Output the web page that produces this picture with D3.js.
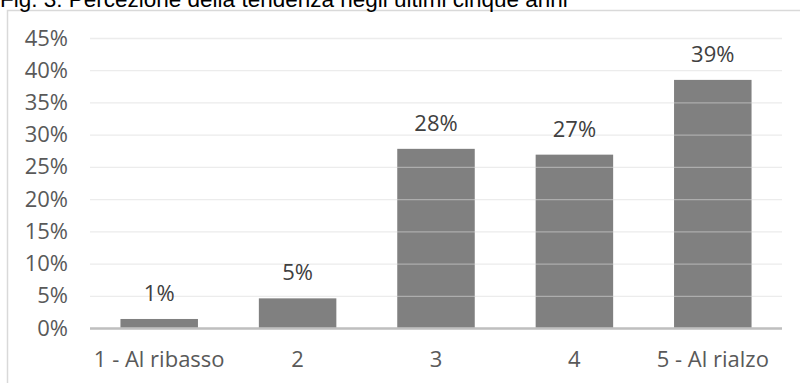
<!DOCTYPE html>
<html>
<head>
<meta charset="utf-8">
<script src="https://cdn.jsdelivr.net/npm/d3@7"></script>
<style>
  html, body { margin: 0; padding: 0; background: #fff; }
  svg { display: block; }
</style>
</head>
<body>
<svg id="chart" width="800" height="383"></svg>
<script>
// Survey answers: perceived trend over the last five years
const categories = ["1 - Al ribasso", "2", "3", "4", "5 - Al rialzo"];
const shares = [0.014, 0.046, 0.278, 0.269, 0.385];
const yTicks = [0, 0.05, 0.10, 0.15, 0.20, 0.25, 0.30, 0.35, 0.40, 0.45];
const title = "Fig. 3: Percezione della tendenza negli ultimi cinque anni";

const svg = d3.select("#chart");
const W = 800, H = 383;
const margin = { left: 90, right: 18, top: 38, bottom: 55 };

const x = d3.scaleBand()
  .domain(categories)
  .range([margin.left, W - margin.right])
  .paddingInner(0.44)
  .paddingOuter(0.22);

const y = d3.scaleLinear()
  .domain([0, 0.45])
  .range([H - margin.bottom, margin.top]);

const fontFace = "'Open Sans', Lato, sans-serif";
const fontSize = 22;
const textColor = "#595959";

// Chart frame (top and left edges visible)
svg.append("path")
  .attr("d", `M7.5,${H} L7.5,10.5 L${W},10.5`)
  .attr("fill", "none")
  .attr("stroke", "#d9d9d9")
  .attr("stroke-width", 1.5);

// Title, partly clipped at the top
svg.append("text")
  .attr("x", 0)
  .attr("y", 7)
  .attr("font-family", "'Liberation Sans', Arial, sans-serif")
  .attr("font-size", 22.5)
  .attr("fill", "#000")
  .text(title);

// Bars
svg.append("g")
  .selectAll("rect")
  .data(shares)
  .join("rect")
  .attr("x", (d, i) => x(categories[i]))
  .attr("width", x.bandwidth())
  .attr("y", d => y(d))
  .attr("height", d => y(0) - y(d))
  .attr("fill", "#808080");

// Gridlines over the bars, very light
const yAxis = d3.axisLeft(y)
  .tickValues(yTicks)
  .tickFormat(d3.format(".0%"))
  .tickSize(-(W - margin.right - margin.left))
  .tickPadding(22);

const gy = svg.append("g")
  .attr("transform", `translate(${margin.left},0)`)
  .call(yAxis);
gy.select(".domain").remove();
gy.selectAll(".tick line")
  .attr("stroke", "#d9d9d9")
  .attr("stroke-opacity", 0.5)
  .attr("stroke-width", 1.3);
gy.selectAll(".tick text")
  .attr("font-family", fontFace)
  .attr("font-size", fontSize)
  .attr("fill", textColor);

// Baseline
svg.append("line")
  .attr("x1", margin.left)
  .attr("x2", W - margin.right)
  .attr("y1", y(0) + 0.5)
  .attr("y2", y(0) + 0.5)
  .attr("stroke", "#bfbfbf")
  .attr("stroke-width", 2.5);

// Category axis labels
const xAxis = d3.axisBottom(x).tickSize(0).tickPadding(23);
const gx = svg.append("g")
  .attr("transform", `translate(0,${y(0)})`)
  .call(xAxis);
gx.select(".domain").remove();
gx.selectAll(".tick text")
  .attr("font-family", fontFace)
  .attr("font-size", fontSize)
  .attr("fill", textColor);

// Value labels above bars
svg.append("g")
  .selectAll("text")
  .data(shares)
  .join("text")
  .attr("x", (d, i) => x(categories[i]) + x.bandwidth() / 2)
  .attr("y", d => y(d) - 18)
  .attr("text-anchor", "middle")
  .attr("font-family", fontFace)
  .attr("font-size", fontSize)
  .attr("fill", "#404040")
  .text(d => d3.format(".0%")(d));
</script>
</body>
</html>
